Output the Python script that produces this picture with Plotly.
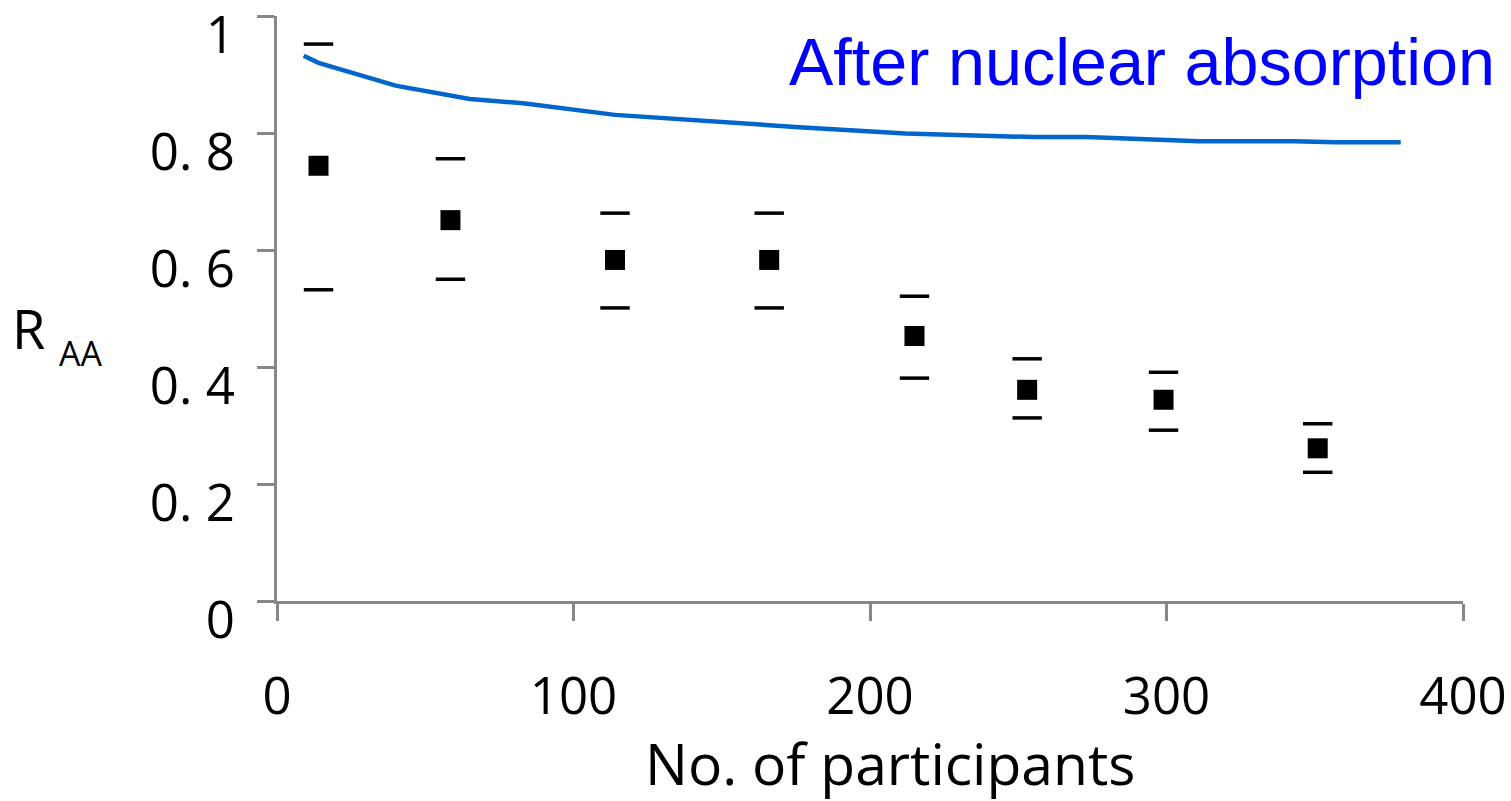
import plotly.graph_objects as go

# Measured R_AA versus number of participants
npart = [14, 58.5, 114, 166, 215, 253, 299, 351]
raa = [0.744, 0.651, 0.583, 0.583, 0.453, 0.361, 0.344, 0.261]
raa_upper = [0.952, 0.756, 0.663, 0.663, 0.521, 0.414, 0.391, 0.303]
raa_lower = [0.532, 0.550, 0.501, 0.501, 0.381, 0.313, 0.292, 0.220]

# Expected suppression from nuclear absorption alone
abs_npart = [9, 14, 40, 65, 83, 114, 176, 212, 255, 273, 311, 343, 357, 379]
abs_raa = [0.932, 0.920, 0.881, 0.858, 0.851, 0.831, 0.810, 0.799, 0.793,
           0.793, 0.786, 0.786, 0.784, 0.784]

x_ticks = [0, 100, 200, 300, 400]
y_ticks = [0, 0.2, 0.4, 0.6, 0.8, 1]
y_tick_text = ["0", "0. 2", "0. 4", "0. 6", "0. 8", "1"]

AXIS_GREY = "#878787"
TICK_FONT = dict(family="Open Sans", size=51, color="black")

fig = go.Figure()

fig.add_trace(go.Scatter(
    x=abs_npart, y=abs_raa, mode="lines",
    line=dict(color="#0066CC", width=4.5),
    showlegend=False, hoverinfo="skip",
))

# Upper and lower systematic bounds drawn as short horizontal dashes
fig.add_trace(go.Scatter(
    x=npart + npart, y=raa_upper + raa_lower, mode="markers",
    marker=dict(symbol="line-ew", size=21, color="black",
                line=dict(color="black", width=3.5)),
    showlegend=False, hoverinfo="skip",
))

fig.add_trace(go.Scatter(
    x=npart, y=raa, mode="markers",
    marker=dict(symbol="square", size=20, color="black",
                line=dict(width=0)),
    showlegend=False,
))

fig.add_annotation(
    text="After nuclear absorption", xref="paper", yref="paper",
    x=1.0287, y=0.921, xanchor="right", yanchor="middle", showarrow=False,
    font=dict(family="Liberation Sans", size=66.5, color="#0000FF"),
)

fig.add_annotation(
    text="No. of participants", xref="paper", yref="paper",
    x=0.517, y=-0.2765, xanchor="center", yanchor="middle", showarrow=False,
    font=dict(family="Open Sans", size=57, color="black"),
)

fig.add_annotation(
    text="R", xref="paper", yref="paper",
    x=-0.2096, y=0.466, xanchor="center", yanchor="middle", showarrow=False,
    font=dict(family="Open Sans", size=54, color="black"),
)
fig.add_annotation(
    text="AA", xref="paper", yref="paper",
    x=-0.1658, y=0.424, xanchor="center", yanchor="middle", showarrow=False,
    font=dict(family="Open Sans", size=34, color="black"),
)

fig.update_xaxes(
    range=[0, 400], tickvals=x_ticks, ticktext=[str(v) for v in x_ticks],
    showgrid=False, zeroline=False, showline=True, automargin=False,
    linecolor=AXIS_GREY, linewidth=3,
    ticks="outside", ticklen=17, tickwidth=3, tickcolor=AXIS_GREY,
    tickfont=TICK_FONT, ticklabelstandoff=32,
)
fig.update_yaxes(
    range=[0, 1], tickvals=y_ticks, ticktext=y_tick_text,
    showgrid=False, zeroline=False, showline=True, automargin=False,
    linecolor=AXIS_GREY, linewidth=3,
    ticks="outside", ticklen=17, tickwidth=3, tickcolor=AXIS_GREY,
    tickfont=TICK_FONT, ticklabelstandoff=12, ticklabelshift=19,
    ticklabeloverflow="allow",
)

fig.update_layout(
    width=1511, height=801,
    margin=dict(l=277, r=48, t=16, b=200),
    paper_bgcolor="white", plot_bgcolor="white",
    showlegend=False,
)

fig.write_html("out.html")
